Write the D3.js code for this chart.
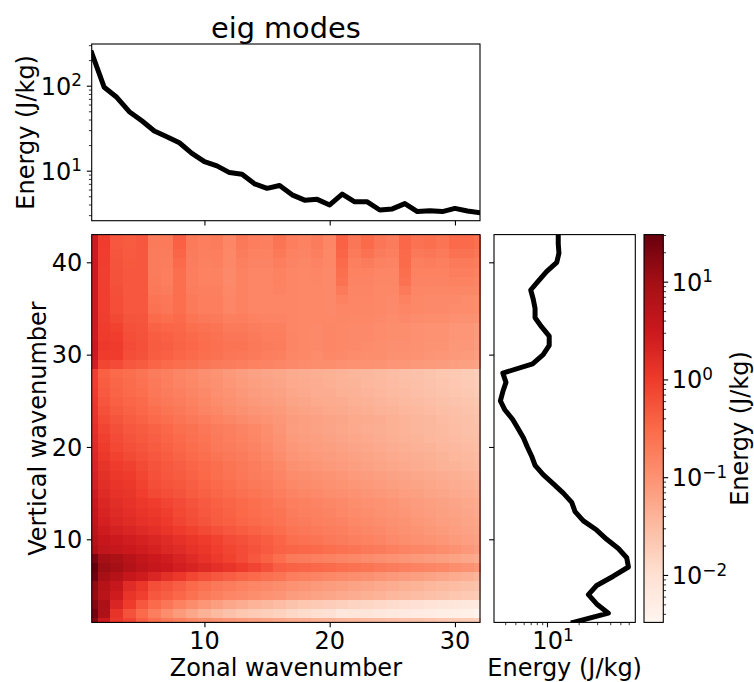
<!DOCTYPE html>
<html><head><meta charset="utf-8">
<script src="https://cdn.jsdelivr.net/npm/d3@7"></script>
<style>
body{margin:0;background:#fff}
svg{display:block}
text{font-family:"DejaVu Sans",sans-serif;fill:#000}
</style>
</head><body>
<svg id="c" width="754" height="682"></svg>
<script>
// ---------------- data ----------------
const zonalWavenumbers = d3.range(1, 33);     // 1..32
const verticalWavenumbers = d3.range(1, 44);  // 1..43

// top panel: energy summed per zonal wavenumber (J/kg)
const zonalEnergy = [243, 95.8, 73, 49.4, 38.7, 29.3, 25.1, 21.3, 16, 12.8, 11.4, 9.5, 9.1, 7.0, 6.2, 6.7,
  5.2, 4.5, 4.6, 3.95, 5.3, 4.3, 4.3, 3.45, 3.55, 4.1, 3.3, 3.38, 3.3, 3.6, 3.35, 3.2];

// right panel: energy summed per vertical wavenumber (J/kg)
const verticalEnergy = [17.8, 38.4, 29.7, 24.8, 29.7, 42.8, 59.6, 57.4, 47.8, 37, 29.7, 22.2, 18.5, 17.2, 14.3, 11.5,
  9.2, 7.7, 7.15, 6.5, 5.96, 5.3, 4.7, 3.98, 3.6, 3.8, 4.07, 3.8, 7.3, 9.2, 10.5, 10.5, 8.9, 7.7, 7.7, 7.4, 7.0,
  8.3, 9.9, 12.4, 13.0, 12.8, 12.8];

// heat map: log10(energy) per cell; one row per vertical wavenumber (1..43), 32 zonal wavenumbers each
const energyLog10 = [
/*1*/ [1.25,0.5,0.05,-0.1,-0.38,-0.55,-0.68,-0.78,-0.88,-0.95,-1.0,-1.05,-1.1,-1.15,-1.2,-1.25,-1.3,-1.33,-1.36,-1.39,-1.42,-1.45,-1.48,-1.51,-1.54,-1.57,-1.6,-1.63,-1.66,-1.69,-1.72,-1.75],
/*2*/ [1.4,0.85,0.1,-0.25,-0.5,-0.75,-0.95,-1.1,-1.25,-1.38,-1.48,-1.58,-1.65,-1.7,-1.75,-1.8,-1.88,-1.93,-1.98,-2.02,-2.15,-2.12,-2.1,-2.15,-2.2,-2.22,-2.25,-2.3,-2.32,-2.34,-2.36,-2.45],
/*3*/ [1.25,0.88,0.3,0.0,-0.3,-0.5,-0.65,-0.8,-0.92,-1.05,-1.15,-1.25,-1.33,-1.4,-1.46,-1.52,-1.6,-1.65,-1.7,-1.74,-1.78,-1.82,-1.86,-1.9,-1.94,-1.98,-2.02,-2.06,-2.1,-2.14,-2.17,-2.2],
/*4*/ [1.1,0.72,0.45,0.08,-0.05,-0.3,-0.38,-0.48,-0.6,-0.7,-0.78,-0.85,-0.9,-0.95,-1.0,-1.04,-1.12,-1.16,-1.2,-1.24,-1.28,-1.32,-1.36,-1.4,-1.44,-1.48,-1.52,-1.56,-1.6,-1.64,-1.68,-1.72],
/*5*/ [1.15,0.78,0.55,0.2,0.05,-0.2,-0.28,-0.38,-0.5,-0.6,-0.68,-0.74,-0.8,-0.85,-0.9,-0.93,-1.0,-1.04,-1.08,-1.12,-1.16,-1.2,-1.24,-1.28,-1.32,-1.36,-1.4,-1.44,-1.48,-1.52,-1.56,-1.6],
/*6*/ [1.42,0.95,0.78,0.56,0.45,0.3,0.14,0.03,-0.12,-0.22,-0.3,-0.38,-0.45,-0.52,-0.58,-0.64,-0.75,-0.79,-0.83,-0.87,-0.91,-0.95,-0.99,-1.03,-1.08,-1.12,-1.16,-1.2,-1.25,-1.3,-1.35,-1.42],
/*7*/ [1.48,1.05,0.97,0.82,0.67,0.57,0.5,0.4,0.32,0.24,0.16,0.08,0.0,-0.1,-0.22,-0.38,-0.42,-0.45,-0.48,-0.52,-0.56,-0.6,-0.64,-0.68,-0.72,-0.76,-0.8,-0.84,-0.88,-0.93,-0.98,-1.05],
/*8*/ [1.32,0.98,0.9,0.75,0.6,0.5,0.44,0.32,0.22,0.12,0.02,-0.08,-0.18,-0.3,-0.42,-0.55,-0.7,-0.73,-0.76,-0.8,-0.84,-0.88,-0.92,-0.96,-1.0,-1.04,-1.08,-1.12,-1.16,-1.2,-1.25,-1.3],
/*9*/ [0.85,0.62,0.56,0.5,0.43,0.35,0.27,0.2,0.12,0.05,-0.03,-0.12,-0.18,-0.26,-0.33,-0.42,-0.45,-0.48,-0.51,-0.55,-0.6,-0.64,-0.68,-0.72,-0.77,-0.82,-0.86,-0.9,-0.95,-1.0,-1.07,-1.13],
/*10*/ [0.75,0.53,0.47,0.42,0.35,0.28,0.2,0.13,0.05,0.0,-0.08,-0.18,-0.23,-0.3,-0.36,-0.45,-0.55,-0.59,-0.63,-0.68,-0.72,-0.76,-0.8,-0.84,-0.89,-0.93,-0.97,-1.01,-1.05,-1.1,-1.14,-1.18],
/*11*/ [0.68,0.45,0.36,0.3,0.22,0.16,0.08,0.0,-0.08,-0.16,-0.24,-0.3,-0.36,-0.42,-0.48,-0.54,-0.62,-0.66,-0.7,-0.74,-0.78,-0.82,-0.86,-0.9,-0.94,-0.98,-1.02,-1.06,-1.1,-1.14,-1.18,-1.22],
/*12*/ [0.6,0.37,0.27,0.21,0.13,0.08,0.01,-0.1,-0.19,-0.27,-0.34,-0.39,-0.46,-0.51,-0.56,-0.61,-0.68,-0.72,-0.76,-0.79,-0.83,-0.87,-0.91,-0.95,-0.98,-1.02,-1.06,-1.1,-1.14,-1.17,-1.21,-1.25],
/*13*/ [0.55,0.32,0.22,0.16,0.08,0.03,-0.04,-0.14,-0.22,-0.3,-0.37,-0.42,-0.49,-0.54,-0.59,-0.64,-0.72,-0.76,-0.79,-0.83,-0.87,-0.91,-0.94,-0.98,-1.02,-1.05,-1.09,-1.13,-1.17,-1.2,-1.24,-1.28],
/*14*/ [0.5,0.28,0.18,0.12,0.04,-0.02,-0.1,-0.18,-0.26,-0.33,-0.4,-0.45,-0.51,-0.56,-0.61,-0.67,-0.75,-0.79,-0.82,-0.86,-0.9,-0.93,-0.97,-1.0,-1.04,-1.08,-1.11,-1.15,-1.19,-1.22,-1.26,-1.3],
/*15*/ [0.43,0.22,0.12,0.07,-0.03,-0.15,-0.21,-0.27,-0.34,-0.41,-0.47,-0.53,-0.58,-0.64,-0.69,-0.75,-0.82,-0.86,-0.89,-0.93,-0.96,-1.0,-1.03,-1.07,-1.1,-1.14,-1.17,-1.21,-1.24,-1.28,-1.31,-1.35],
/*16*/ [0.38,0.18,0.08,0.03,-0.08,-0.2,-0.26,-0.31,-0.38,-0.45,-0.51,-0.57,-0.62,-0.68,-0.73,-0.8,-0.88,-0.91,-0.95,-0.98,-1.01,-1.05,-1.08,-1.11,-1.15,-1.18,-1.21,-1.25,-1.28,-1.31,-1.35,-1.38],
/*17*/ [0.34,0.14,0.04,0.0,-0.12,-0.24,-0.3,-0.35,-0.42,-0.49,-0.55,-0.61,-0.66,-0.72,-0.77,-0.84,-0.92,-0.95,-0.99,-1.02,-1.05,-1.09,-1.12,-1.15,-1.19,-1.22,-1.25,-1.29,-1.32,-1.35,-1.39,-1.42],
/*18*/ [0.3,0.1,0.0,-0.06,-0.16,-0.26,-0.32,-0.38,-0.45,-0.51,-0.57,-0.63,-0.68,-0.74,-0.8,-0.88,-0.98,-1.01,-1.05,-1.08,-1.11,-1.15,-1.18,-1.21,-1.25,-1.28,-1.31,-1.35,-1.38,-1.41,-1.45,-1.48],
/*19*/ [0.26,0.04,-0.08,-0.16,-0.24,-0.3,-0.37,-0.44,-0.5,-0.56,-0.63,-0.68,-0.73,-0.79,-0.85,-0.93,-1.03,-1.06,-1.09,-1.12,-1.15,-1.18,-1.21,-1.25,-1.28,-1.31,-1.34,-1.37,-1.41,-1.44,-1.47,-1.5],
/*20*/ [0.22,0.0,-0.14,-0.22,-0.28,-0.34,-0.41,-0.48,-0.54,-0.6,-0.67,-0.72,-0.77,-0.83,-0.89,-0.97,-1.07,-1.1,-1.13,-1.16,-1.19,-1.22,-1.25,-1.28,-1.32,-1.35,-1.38,-1.41,-1.44,-1.47,-1.5,-1.53],
/*21*/ [0.18,-0.05,-0.18,-0.26,-0.32,-0.38,-0.45,-0.52,-0.58,-0.63,-0.7,-0.75,-0.8,-0.86,-0.92,-1.0,-1.1,-1.13,-1.16,-1.19,-1.22,-1.25,-1.28,-1.31,-1.35,-1.38,-1.41,-1.44,-1.47,-1.5,-1.53,-1.56],
/*22*/ [0.15,-0.1,-0.22,-0.3,-0.35,-0.42,-0.48,-0.55,-0.6,-0.66,-0.72,-0.77,-0.82,-0.88,-0.95,-1.03,-1.13,-1.16,-1.19,-1.22,-1.25,-1.28,-1.31,-1.34,-1.37,-1.4,-1.43,-1.46,-1.49,-1.52,-1.55,-1.58],
/*23*/ [0.11,-0.17,-0.28,-0.36,-0.42,-0.5,-0.56,-0.62,-0.68,-0.74,-0.8,-0.86,-0.91,-0.96,-1.01,-1.06,-1.12,-1.15,-1.18,-1.21,-1.24,-1.27,-1.3,-1.33,-1.37,-1.4,-1.43,-1.46,-1.5,-1.53,-1.56,-1.6],
/*24*/ [0.07,-0.24,-0.35,-0.42,-0.48,-0.57,-0.63,-0.69,-0.75,-0.81,-0.87,-0.93,-0.98,-1.03,-1.07,-1.1,-1.17,-1.2,-1.23,-1.26,-1.29,-1.32,-1.35,-1.38,-1.41,-1.44,-1.47,-1.5,-1.53,-1.56,-1.59,-1.63],
/*25*/ [0.03,-0.29,-0.4,-0.46,-0.52,-0.62,-0.68,-0.74,-0.8,-0.86,-0.92,-0.98,-1.03,-1.08,-1.12,-1.15,-1.21,-1.24,-1.27,-1.3,-1.33,-1.36,-1.39,-1.42,-1.45,-1.48,-1.51,-1.54,-1.57,-1.6,-1.63,-1.67],
/*26*/ [0.0,-0.33,-0.44,-0.5,-0.56,-0.66,-0.72,-0.78,-0.84,-0.9,-0.96,-1.02,-1.07,-1.12,-1.16,-1.19,-1.25,-1.28,-1.31,-1.33,-1.36,-1.39,-1.42,-1.45,-1.48,-1.51,-1.54,-1.57,-1.61,-1.64,-1.67,-1.71],
/*27*/ [-0.03,-0.37,-0.47,-0.53,-0.59,-0.69,-0.75,-0.81,-0.87,-0.93,-0.99,-1.05,-1.1,-1.15,-1.19,-1.22,-1.28,-1.3,-1.33,-1.35,-1.38,-1.41,-1.44,-1.47,-1.5,-1.53,-1.56,-1.59,-1.63,-1.66,-1.7,-1.74],
/*28*/ [-0.05,-0.4,-0.5,-0.56,-0.62,-0.72,-0.78,-0.84,-0.9,-0.96,-1.02,-1.08,-1.13,-1.18,-1.22,-1.25,-1.3,-1.32,-1.35,-1.37,-1.4,-1.43,-1.46,-1.49,-1.52,-1.55,-1.58,-1.61,-1.65,-1.68,-1.72,-1.76],
/*29*/ [0.4,-0.12,-0.18,-0.3,-0.35,-0.45,-0.5,-0.55,-0.6,-0.65,-0.7,-0.72,-0.75,-0.8,-0.82,-0.85,-0.9,-0.92,-0.95,-0.95,-0.97,-1.0,-1.0,-1.02,-1.05,-1.05,-1.08,-1.1,-1.12,-1.15,-1.17,-1.2],
/*30*/ [0.45,0.0,-0.02,-0.2,-0.25,-0.36,-0.4,-0.46,-0.5,-0.56,-0.6,-0.65,-0.66,-0.7,-0.75,-0.76,-0.86,-0.88,-0.92,-0.88,-0.9,-0.92,-0.94,-0.95,-0.98,-0.98,-1.0,-1.04,-1.05,-1.08,-1.1,-1.14],
/*31*/ [0.48,0.02,0.0,-0.18,-0.23,-0.34,-0.38,-0.44,-0.48,-0.54,-0.58,-0.63,-0.64,-0.68,-0.73,-0.74,-0.84,-0.87,-0.9,-0.85,-0.88,-0.9,-0.92,-0.93,-0.96,-0.96,-0.98,-1.02,-1.02,-1.06,-1.07,-1.12],
/*32*/ [0.45,0.0,-0.03,-0.2,-0.25,-0.36,-0.4,-0.45,-0.5,-0.55,-0.6,-0.65,-0.65,-0.7,-0.75,-0.75,-0.84,-0.87,-0.9,-0.85,-0.88,-0.9,-0.9,-0.92,-0.95,-0.95,-0.97,-1.0,-1.0,-1.05,-1.05,-1.1],
/*33*/ [0.45,-0.02,-0.08,-0.23,-0.26,-0.42,-0.46,-0.48,-0.55,-0.6,-0.64,-0.7,-0.7,-0.74,-0.78,-0.78,-0.85,-0.88,-0.9,-0.86,-0.88,-0.9,-0.9,-0.92,-0.95,-0.95,-0.97,-1.0,-1.0,-1.05,-1.05,-1.1],
/*34*/ [0.45,-0.04,-0.15,-0.27,-0.28,-0.52,-0.56,-0.52,-0.62,-0.68,-0.7,-0.78,-0.75,-0.8,-0.82,-0.82,-0.85,-0.88,-0.88,-0.88,-0.86,-0.87,-0.88,-0.9,-0.92,-0.9,-0.92,-0.94,-0.95,-0.97,-0.98,-1.0],
/*35*/ [0.45,-0.05,-0.2,-0.3,-0.3,-0.6,-0.65,-0.55,-0.7,-0.75,-0.75,-0.85,-0.8,-0.85,-0.85,-0.85,-0.85,-0.88,-0.88,-0.9,-0.85,-0.85,-0.86,-0.88,-0.9,-0.85,-0.88,-0.9,-0.9,-0.92,-0.92,-0.95],
/*36*/ [0.45,-0.05,-0.2,-0.3,-0.3,-0.62,-0.66,-0.55,-0.7,-0.75,-0.75,-0.85,-0.8,-0.85,-0.85,-0.85,-0.85,-0.88,-0.88,-0.9,-0.8,-0.85,-0.85,-0.88,-0.9,-0.8,-0.88,-0.9,-0.9,-0.9,-0.92,-0.95],
/*37*/ [0.45,-0.05,-0.22,-0.3,-0.3,-0.68,-0.72,-0.55,-0.74,-0.78,-0.78,-0.88,-0.8,-0.85,-0.85,-0.82,-0.85,-0.88,-0.87,-0.9,-0.7,-0.84,-0.84,-0.87,-0.88,-0.7,-0.85,-0.86,-0.86,-0.85,-0.86,-0.88],
/*38*/ [0.45,-0.05,-0.25,-0.3,-0.3,-0.7,-0.75,-0.55,-0.75,-0.8,-0.8,-0.9,-0.8,-0.85,-0.85,-0.8,-0.85,-0.88,-0.86,-0.9,-0.6,-0.82,-0.82,-0.86,-0.86,-0.6,-0.82,-0.82,-0.82,-0.8,-0.8,-0.84],
/*39*/ [0.45,-0.05,-0.25,-0.3,-0.3,-0.72,-0.75,-0.55,-0.75,-0.8,-0.8,-0.9,-0.8,-0.85,-0.85,-0.8,-0.85,-0.88,-0.85,-0.9,-0.55,-0.8,-0.8,-0.85,-0.85,-0.55,-0.8,-0.8,-0.8,-0.75,-0.75,-0.8],
/*40*/ [0.45,-0.04,-0.27,-0.32,-0.3,-0.72,-0.74,-0.5,-0.74,-0.79,-0.78,-0.88,-0.76,-0.83,-0.83,-0.75,-0.83,-0.86,-0.83,-0.88,-0.5,-0.76,-0.72,-0.8,-0.82,-0.52,-0.76,-0.74,-0.76,-0.7,-0.7,-0.74],
/*41*/ [0.45,-0.03,-0.28,-0.33,-0.3,-0.72,-0.72,-0.45,-0.72,-0.77,-0.75,-0.87,-0.72,-0.8,-0.8,-0.68,-0.8,-0.82,-0.78,-0.87,-0.45,-0.7,-0.6,-0.72,-0.78,-0.5,-0.68,-0.65,-0.7,-0.6,-0.6,-0.66],
/*42*/ [0.45,-0.02,-0.3,-0.35,-0.3,-0.7,-0.7,-0.4,-0.7,-0.75,-0.72,-0.85,-0.68,-0.75,-0.78,-0.62,-0.75,-0.8,-0.72,-0.85,-0.42,-0.65,-0.52,-0.65,-0.72,-0.48,-0.6,-0.55,-0.62,-0.5,-0.5,-0.58],
/*43*/ [0.45,-0.02,-0.3,-0.35,-0.3,-0.72,-0.7,-0.38,-0.7,-0.75,-0.7,-0.85,-0.65,-0.75,-0.78,-0.6,-0.75,-0.8,-0.72,-0.85,-0.42,-0.65,-0.5,-0.65,-0.72,-0.48,-0.6,-0.55,-0.62,-0.5,-0.5,-0.58]
];

const zonalTicks = [10, 20, 30];
const verticalTicks = [10, 20, 30, 40];
const topMajorTicks = [10, 100];
const sideMajorTicks = [10];
const colorbarTicks = [0.01, 0.1, 1, 10];
const colorRange = [0.00327, 30.3];
const redsColors = ["#fff5f0","#fee0d2","#fcbba1","#fc9272","#fb6a4a","#ef3b2c","#cb181d","#a50f15","#67000d"];

(function () {
// ---------------- layout ----------------
const heat = {l: 91.7, r: 480, t: 234.6, b: 622.4};
const topAx = {l: 91.7, r: 480, t: 44, b: 220.7};
const side = {l: 494, r: 635.3, t: 234.6, b: 622.4};
const cbar = {l: 644, r: 663.3, t: 234.6, b: 622.4};
const FS = 24, MAJ = 4.9, MIN = 2.8, LW = 5;

const svg = d3.select("#c");
const xHeat = d3.scaleLinear().domain([1, 32]).range([heat.l, heat.r]);
const yHeat = d3.scaleLinear().domain([1, 43]).range([heat.b, heat.t]);
const yTop = d3.scaleLog().domain([2.58, 309.5]).range([topAx.b, topAx.t]);
const xSide = d3.scaleLog().domain([3.13, 69.3]).range([side.l, side.r]);
const cNorm = d3.scaleLog().domain(colorRange).range([0, 1]).clamp(true);
const cMap = d3.piecewise(d3.interpolateRgb, redsColors);
const yCbar = d3.scaleLog().domain(colorRange).range([cbar.b, cbar.t]);
const color = v => cMap(cNorm(v));

function minorLog(domain) {
  const out = [];
  for (let d = -4; d < 4; d++) for (let k = 2; k < 10; k++) {
    const v = k * Math.pow(10, d);
    if (v >= domain[0] && v <= domain[1]) out.push(v);
  }
  return out;
}
function expOf(v) { return Math.round(Math.log10(v)); }
function supText(g, x, y, e, anchor) {
  const t = g.append("text").attr("x", x).attr("y", y).attr("text-anchor", anchor).attr("font-size", FS);
  t.append("tspan").text("10");
  t.append("tspan").attr("dy", "-0.5em").attr("font-size", "70%").text(String(e).replace("-", "\u2212"));
}
function styleAxis(g, w) {
  g.select(".domain").remove();
  g.selectAll(".tick line").attr("stroke", "#000").attr("stroke-width", w);
  g.selectAll(".tick text").remove();
}

// ---------------- heat map ----------------
const cells = [];
energyLog10.forEach((row, vi) => row.forEach((lv, xi) => cells.push({x: zonalWavenumbers[xi], v: verticalWavenumbers[vi], e: Math.pow(10, lv)})));
svg.append("g").attr("shape-rendering", "crispEdges").selectAll("rect").data(cells).join("rect")
  .attr("x", d => xHeat(Math.max(1, d.x - 0.5)))
  .attr("width", d => xHeat(Math.min(32, d.x + 0.5)) - xHeat(Math.max(1, d.x - 0.5)) + 0.6)
  .attr("y", d => yHeat(Math.min(43, d.v + 0.5)))
  .attr("height", d => yHeat(Math.max(1, d.v - 0.5)) - yHeat(Math.min(43, d.v + 0.5)) + 0.6)
  .attr("fill", d => color(d.e));

const gHx = svg.append("g").attr("transform", `translate(0,${heat.b})`)
  .call(d3.axisBottom(xHeat).tickValues(zonalTicks).tickSize(MAJ).tickFormat(""));
styleAxis(gHx, 1.1);
zonalTicks.forEach(t => svg.append("text").attr("x", xHeat(t)).attr("y", heat.b + 26.5).attr("text-anchor", "middle").attr("font-size", FS).text(t));
const gHy = svg.append("g").attr("transform", `translate(${heat.l},0)`)
  .call(d3.axisLeft(yHeat).tickValues(verticalTicks).tickSize(MAJ).tickFormat(""));
styleAxis(gHy, 1.1);
verticalTicks.forEach(t => svg.append("text").attr("x", heat.l - 9.3).attr("y", yHeat(t) + 8.7).attr("text-anchor", "end").attr("font-size", FS).text(t));
svg.append("rect").attr("x", heat.l).attr("y", heat.t).attr("width", heat.r - heat.l).attr("height", heat.b - heat.t)
  .attr("fill", "none").attr("stroke", "#000").attr("stroke-width", 1.1);
svg.append("text").attr("x", (heat.l + heat.r) / 2).attr("y", 675.5).attr("text-anchor", "middle").attr("font-size", FS).text("Zonal wavenumber");
svg.append("text").attr("transform", `translate(46,${(heat.t + heat.b) / 2}) rotate(-90)`).attr("text-anchor", "middle").attr("font-size", FS).text("Vertical wavenumber");

// ---------------- top panel ----------------
svg.append("clipPath").attr("id", "clipTop").append("rect")
  .attr("x", topAx.l).attr("y", topAx.t).attr("width", topAx.r - topAx.l).attr("height", topAx.b - topAx.t);
svg.append("path").datum(zonalWavenumbers.map((x, i) => ({x, e: zonalEnergy[i]})))
  .attr("clip-path", "url(#clipTop)")
  .attr("fill", "none").attr("stroke", "#000").attr("stroke-width", LW)
  .attr("stroke-linejoin", "round").attr("stroke-linecap", "square")
  .attr("d", d3.line().x(d => xHeat(d.x)).y(d => yTop(d.e)));
const gTx = svg.append("g").attr("transform", `translate(0,${topAx.b})`)
  .call(d3.axisBottom(xHeat).tickValues(zonalTicks).tickSize(MAJ).tickFormat(""));
styleAxis(gTx, 1.1);
const gTy = svg.append("g").attr("transform", `translate(${topAx.l},0)`)
  .call(d3.axisLeft(yTop).tickValues(topMajorTicks).tickSize(MAJ).tickFormat(""));
styleAxis(gTy, 1.1);
const gTym = svg.append("g").attr("transform", `translate(${topAx.l},0)`)
  .call(d3.axisLeft(yTop).tickValues(minorLog(yTop.domain())).tickSize(MIN).tickFormat(""));
styleAxis(gTym, 0.8);
topMajorTicks.forEach(t => supText(svg, topAx.l - 9.8, yTop(t) + 9, expOf(t), "end"));
svg.append("rect").attr("x", topAx.l).attr("y", topAx.t).attr("width", topAx.r - topAx.l).attr("height", topAx.b - topAx.t)
  .attr("fill", "none").attr("stroke", "#000").attr("stroke-width", 1.1);
svg.append("text").attr("transform", `translate(34,${(topAx.t + topAx.b) / 2}) rotate(-90)`).attr("text-anchor", "middle").attr("font-size", FS).text("Energy (J/kg)");
svg.append("text").attr("x", (topAx.l + topAx.r) / 2).attr("y", 38.3).attr("text-anchor", "middle").attr("font-size", 28.8).text("eig modes");

// ---------------- side panel ----------------
svg.append("clipPath").attr("id", "clipSide").append("rect")
  .attr("x", side.l).attr("y", side.t).attr("width", side.r - side.l).attr("height", side.b - side.t);
svg.append("path").datum(verticalWavenumbers.map((v, i) => ({v, e: verticalEnergy[i]})))
  .attr("clip-path", "url(#clipSide)")
  .attr("fill", "none").attr("stroke", "#000").attr("stroke-width", LW)
  .attr("stroke-linejoin", "round").attr("stroke-linecap", "square")
  .attr("d", d3.line().x(d => xSide(d.e)).y(d => yHeat(d.v)));
const gSx = svg.append("g").attr("transform", `translate(0,${side.b})`)
  .call(d3.axisBottom(xSide).tickValues(sideMajorTicks).tickSize(MAJ).tickFormat(""));
styleAxis(gSx, 1.1);
const gSxm = svg.append("g").attr("transform", `translate(0,${side.b})`)
  .call(d3.axisBottom(xSide).tickValues(minorLog(xSide.domain())).tickSize(MIN).tickFormat(""));
styleAxis(gSxm, 0.8);
const gSy = svg.append("g").attr("transform", `translate(${side.l},0)`)
  .call(d3.axisLeft(yHeat).tickValues(verticalTicks).tickSize(MAJ).tickFormat(""));
styleAxis(gSy, 1.1);
sideMajorTicks.forEach(t => supText(svg, xSide(t) + 6, side.b + 26.5, expOf(t), "middle"));
svg.append("rect").attr("x", side.l).attr("y", side.t).attr("width", side.r - side.l).attr("height", side.b - side.t)
  .attr("fill", "none").attr("stroke", "#000").attr("stroke-width", 1.1);
svg.append("text").attr("x", (side.l + side.r) / 2).attr("y", 675.5).attr("text-anchor", "middle").attr("font-size", FS).text("Energy (J/kg)");

// ---------------- colorbar ----------------
const grad = svg.append("defs").append("linearGradient").attr("id", "cgrad")
  .attr("x1", 0).attr("y1", 1).attr("x2", 0).attr("y2", 0);
d3.range(0, 1.0001, 0.02).forEach(t => grad.append("stop").attr("offset", t).attr("stop-color", cMap(t)));
svg.append("rect").attr("x", cbar.l).attr("y", cbar.t).attr("width", cbar.r - cbar.l).attr("height", cbar.b - cbar.t)
  .attr("fill", "url(#cgrad)");
const gC = svg.append("g").attr("transform", `translate(${cbar.r},0)`)
  .call(d3.axisRight(yCbar).tickValues(colorbarTicks).tickSize(MAJ).tickFormat(""));
styleAxis(gC, 1.1);
const gCm = svg.append("g").attr("transform", `translate(${cbar.r},0)`)
  .call(d3.axisRight(yCbar).tickValues(minorLog(colorRange)).tickSize(MIN).tickFormat(""));
styleAxis(gCm, 0.8);
colorbarTicks.forEach(t => supText(svg, cbar.r + 8.5, yCbar(t) + 9, expOf(t), "start"));
svg.append("rect").attr("x", cbar.l).attr("y", cbar.t).attr("width", cbar.r - cbar.l).attr("height", cbar.b - cbar.t)
  .attr("fill", "none").attr("stroke", "#000").attr("stroke-width", 1.1);
svg.append("text").attr("transform", `translate(747.5,${(cbar.t + cbar.b) / 2}) rotate(-90)`).attr("text-anchor", "middle").attr("font-size", FS).text("Energy (J/kg)");
})();
</script>
</body></html>
